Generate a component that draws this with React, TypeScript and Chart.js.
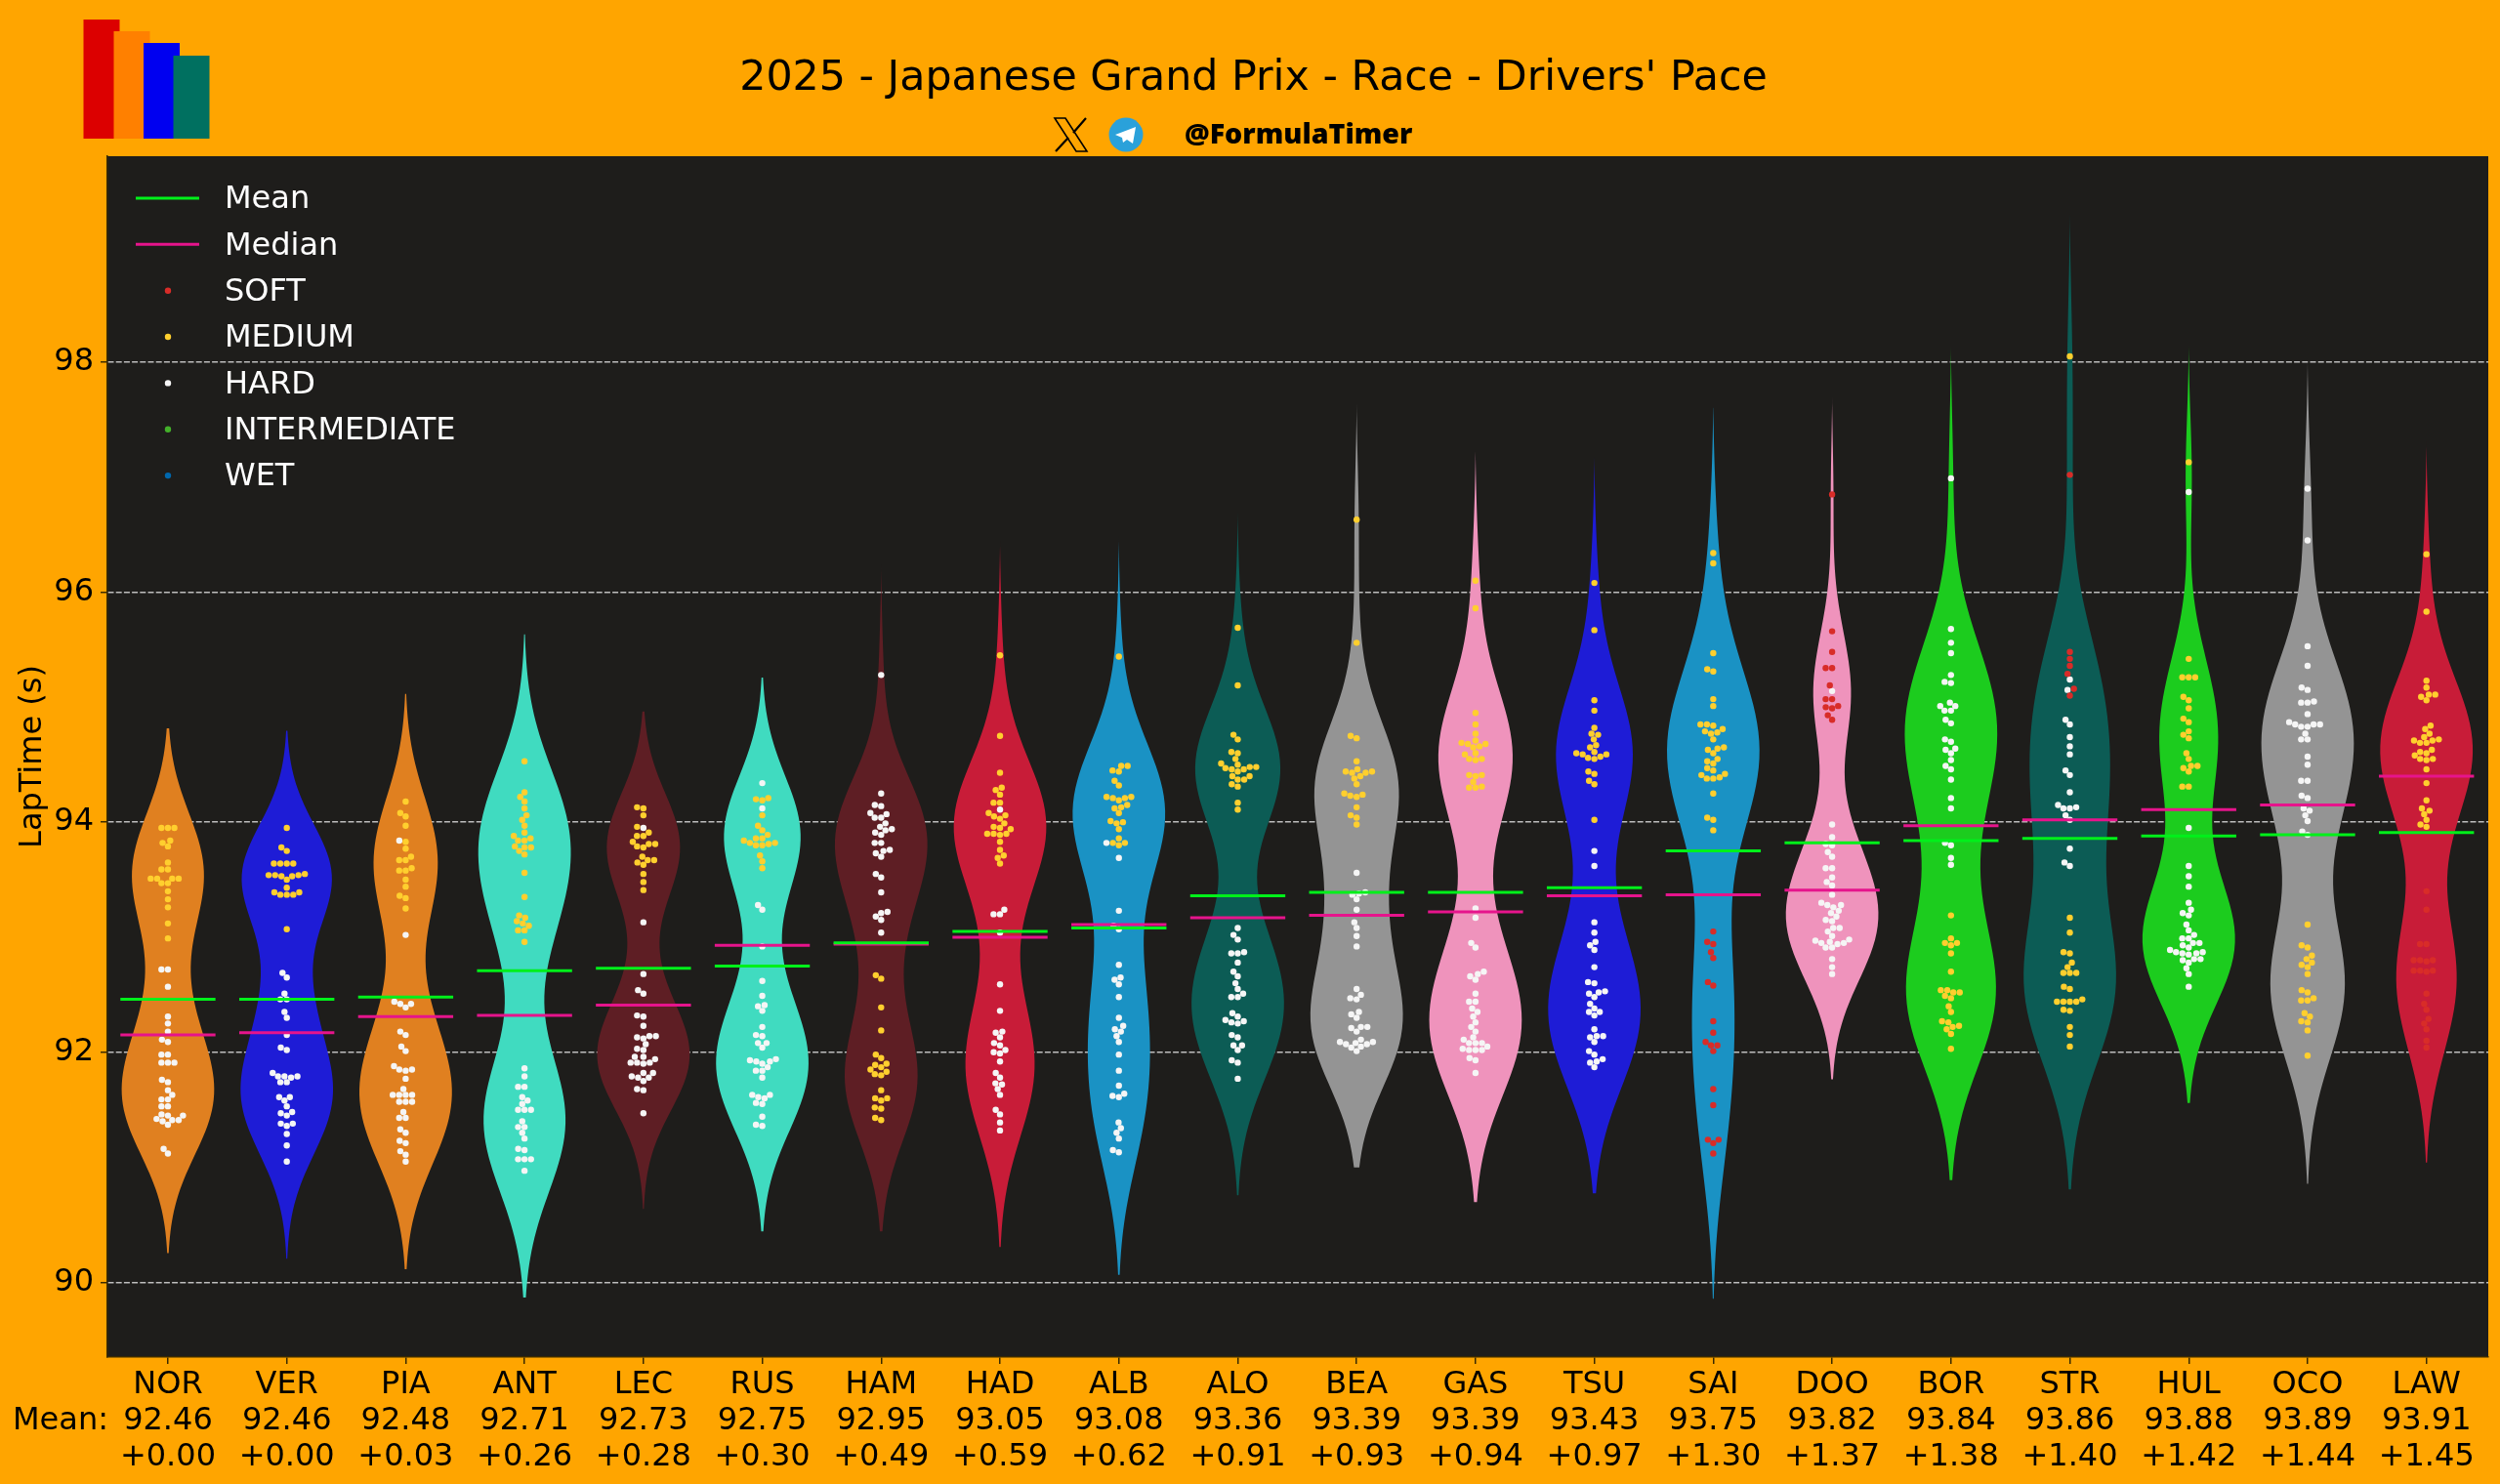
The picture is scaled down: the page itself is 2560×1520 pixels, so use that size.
import React, { useEffect, useRef } from "react";
import { Chart, registerables } from "chart.js";

Chart.register(...registerables);

const drivers = ["NOR","VER","PIA","ANT","LEC","RUS","HAM","HAD","ALB","ALO","BEA","GAS","TSU","SAI","DOO","BOR","STR","HUL","OCO","LAW"];
const means = [92.46,92.46,92.48,92.71,92.73,92.75,92.95,93.05,93.08,93.36,93.39,93.39,93.43,93.75,93.82,93.84,93.86,93.88,93.89,93.91];
const medians = [92.15,92.17,92.31,92.32,92.41,92.93,92.94,93.00,93.11,93.17,93.19,93.22,93.36,93.37,93.41,93.97,94.02,94.11,94.15,94.40];
const gaps = ["+0.00","+0.00","+0.03","+0.26","+0.28","+0.30","+0.49","+0.59","+0.62","+0.91","+0.93","+0.94","+0.97","+1.30","+1.37","+1.38","+1.40","+1.42","+1.44","+1.45"];
const yTicks = [90,92,94,96,98];
const violinColors = ["#E08020","#1E1CD6","#E08020","#40DBC0","#5E1E24","#40DBC0","#5E1E24","#C81C38","#1A92C4","#0C5C55","#949494","#EF93BC","#1E1CD6","#1A92C4","#EF93BC","#1CCC1E","#0C5C55","#1CCC1E","#949494","#C81C38"];
const compoundNames = ["SOFT","MEDIUM","HARD","INTERMEDIATE","WET"];
const compoundColors = ["#D82C28","#FFCF2E","#F5F5F5","#43B02A","#0067AD"];

const NOR_M = [93.95,93.95,93.95,93.84,93.82,93.79,93.65,93.59,93.59,93.51,93.51,93.51,93.51,93.47,93.47,93.40,93.33,93.26,93.12,92.99];
const NOR_H = [92.72,92.72,92.57,92.31,92.25,92.18,92.11,92.09,91.98,91.98,91.91,91.91,91.91,91.76,91.74,91.67,91.63,91.59,91.59,91.53,91.53,91.46,91.45,91.45,91.42,91.41,91.41,91.40,91.37,91.16,91.12];
const VER_M = [93.95,93.78,93.75,93.64,93.64,93.64,93.64,93.55,93.54,93.54,93.54,93.53,93.53,93.50,93.43,93.39,93.39,93.37,93.37,93.37,93.07];
const VER_H = [92.69,92.65,92.51,92.46,92.46,92.35,92.30,92.15,92.04,92.02,91.82,91.79,91.79,91.79,91.78,91.74,91.74,91.61,91.61,91.58,91.53,91.48,91.47,91.45,91.38,91.38,91.36,91.29,91.19,91.05];
const PIA_M = [94.18,94.08,94.05,93.97,93.83,93.77,93.70,93.67,93.67,93.58,93.58,93.60,93.50,93.44,93.36,93.34,93.25];
const PIA_H = [93.84,93.02,92.44,92.42,92.42,92.39,92.18,92.15,92.05,92.01,91.88,91.85,91.85,91.84,91.77,91.68,91.63,91.63,91.63,91.63,91.57,91.57,91.57,91.48,91.43,91.43,91.33,91.30,91.23,91.21,91.14,91.11,91.05];
const ANT_M = [94.53,94.26,94.22,94.18,94.12,94.06,94.02,93.97,93.91,93.88,93.86,93.84,93.84,93.79,93.78,93.75,93.72,93.78,93.56,93.35,93.19,93.17,93.14,93.12,93.10,93.06,93.06,92.96];
const ANT_H = [91.86,91.79,91.70,91.70,91.61,91.58,91.55,91.50,91.50,91.50,91.40,91.35,91.35,91.30,91.25,91.16,91.15,91.07,91.07,91.07,90.97];
const LEC_M = [94.13,94.12,94.06,93.96,93.91,93.88,93.88,93.83,93.81,93.81,93.79,93.78,93.70,93.67,93.67,93.65,93.63,93.55,93.48,93.41];
const LEC_H = [93.95,93.13,92.68,92.54,92.51,92.32,92.31,92.23,92.14,92.14,92.13,92.12,92.07,92.03,92.02,91.96,91.96,91.94,91.91,91.91,91.91,91.90,91.82,91.82,91.79,91.78,91.78,91.75,91.68,91.67,91.47];
const RUS_M = [94.20,94.19,94.21,94.06,93.97,93.93,93.89,93.86,93.86,93.84,93.82,93.82,93.80,93.80,93.81,93.71,93.66,93.60];
const RUS_H = [94.34,94.12,93.28,93.24,92.92,92.62,92.49,92.41,92.40,92.36,92.22,92.15,92.14,92.08,92.08,92.04,91.94,91.93,91.92,91.90,91.92,91.87,91.84,91.84,91.78,91.63,91.63,91.61,91.60,91.56,91.55,91.44,91.37,91.36];
const HAM_M = [92.67,92.64,92.39,92.19,91.98,91.95,91.90,91.89,91.87,91.85,91.83,91.81,91.80,91.67,91.60,91.60,91.58,91.52,91.51,91.43,91.41];
const HAM_H = [95.28,94.25,94.15,94.14,94.08,94.04,94.04,94.07,93.99,93.96,93.94,93.93,93.91,93.89,93.82,93.82,93.76,93.75,93.73,93.70,93.55,93.52,93.39,93.22,93.21,93.18,93.15,93.04];
const HAD_M = [95.45,94.75,94.43,94.30,94.28,94.24,94.17,94.17,94.08,94.06,94.05,94.03,93.99,93.96,93.95,93.94,93.90,93.90,93.90,93.89,93.83,93.76,93.71,93.69,93.64];
const HAD_H = [94.11,93.24,93.20,93.20,93.04,92.59,92.36,92.17,92.18,92.13,92.08,92.06,92.02,92.00,91.99,91.92,91.82,91.78,91.73,91.72,91.68,91.63,91.50,91.46,91.39,91.32];
const ALB_M = [95.44,94.49,94.49,94.45,94.44,94.36,94.32,94.22,94.22,94.21,94.21,94.19,94.15,94.13,94.12,94.08,94.01,94.00,93.99,93.94,93.86,93.82,93.82,93.80];
const ALB_H = [93.82,93.69,93.23,93.10,93.07,92.76,92.65,92.63,92.59,92.48,92.30,92.23,92.20,92.18,92.14,92.09,91.98,91.84,91.71,91.64,91.62,91.61,91.39,91.34,91.30,91.25,91.15,91.13];
const ALO_M = [95.69,95.19,94.76,94.72,94.61,94.60,94.55,94.51,94.50,94.48,94.48,94.47,94.46,94.46,94.44,94.40,94.40,94.37,94.37,94.33,94.31,94.17,94.11];
const ALO_H = [93.08,93.02,92.98,92.87,92.86,92.86,92.78,92.70,92.66,92.60,92.55,92.51,92.48,92.48,92.34,92.31,92.28,92.27,92.26,92.25,92.15,92.13,92.06,92.06,92.02,91.93,91.91,91.77];
const BEA_M = [96.63,95.56,94.75,94.73,94.53,94.46,94.44,94.44,94.43,94.43,94.40,94.38,94.33,94.23,94.24,94.25,94.22,94.13,94.06,94.04,93.98];
const BEA_H = [93.56,93.39,93.38,93.37,93.33,93.24,93.13,93.08,93.01,92.92,92.55,92.50,92.47,92.46,92.35,92.33,92.30,92.22,92.22,92.21,92.18,92.09,92.09,92.08,92.07,92.07,92.11,92.05,92.04,92.01];
const GAS_M = [96.10,95.86,94.95,94.85,94.77,94.69,94.71,94.68,94.68,94.66,94.65,94.60,94.59,94.55,94.54,94.55,94.41,94.41,94.40,94.35,94.31,94.30,94.30];
const GAS_H = [93.25,93.17,92.95,92.91,92.70,92.68,92.66,92.63,92.51,92.44,92.44,92.38,92.35,92.31,92.26,92.22,92.18,92.13,92.11,92.08,92.08,92.08,92.05,92.02,92.02,92.02,92.03,91.95,91.93,91.82];
const TSU_M = [96.08,95.67,95.06,94.97,94.82,94.77,94.76,94.72,94.67,94.65,94.60,94.57,94.56,94.55,94.59,94.59,94.61,94.44,94.42,94.36,94.33,94.02];
const TSU_H = [93.75,93.62,93.13,93.04,92.96,92.93,92.89,92.74,92.61,92.60,92.53,92.52,92.51,92.48,92.42,92.38,92.35,92.35,92.32,92.20,92.14,92.14,92.13,92.09,92.01,91.98,91.94,91.92,91.91,91.87];
const SAI_S = [93.05,92.96,92.94,92.87,92.82,92.61,92.58,92.27,92.17,92.09,92.06,92.06,92.01,91.68,91.54,91.24,91.24,91.21,91.12];
const SAI_M = [96.34,96.25,95.47,95.33,95.31,95.07,95.01,94.85,94.85,94.84,94.81,94.79,94.78,94.77,94.72,94.65,94.64,94.63,94.60,94.55,94.53,94.51,94.47,94.45,94.42,94.41,94.39,94.38,94.38,94.25,94.04,94.02,93.93];
const DOO_S = [96.85,95.66,95.48,95.34,95.34,95.19,95.07,95.07,95.00,94.99,95.01,94.93,94.89];
const DOO_H = [95.14,93.98,93.87,93.81,93.80,93.74,93.70,93.60,93.60,93.52,93.48,93.45,93.37,93.30,93.28,93.28,93.26,93.23,93.21,93.18,93.15,93.14,93.08,93.08,93.05,93.01,92.98,92.95,92.95,92.96,92.97,92.94,92.91,92.91,92.81,92.74,92.68];
const BOR_M = [93.19,92.99,92.95,92.95,92.93,92.86,92.70,92.54,92.52,92.52,92.54,92.49,92.47,92.40,92.35,92.27,92.26,92.23,92.22,92.20,92.16,92.03];
const BOR_H = [96.99,95.68,95.56,95.47,95.28,95.22,95.21,95.04,95.01,95.01,94.97,94.97,94.89,94.86,94.72,94.70,94.64,94.63,94.60,94.54,94.49,94.46,94.37,94.21,94.12,93.82,93.80,93.69,93.63];
const STR_S = [97.02,95.48,95.42,95.36,95.29,95.16,95.10];
const STR_M = [98.05,93.17,93.04,92.87,92.86,92.78,92.74,92.69,92.69,92.69,92.57,92.55,92.46,92.44,92.44,92.44,92.44,92.37,92.36,92.22,92.15,92.05];
const STR_H = [95.24,95.15,94.89,94.85,94.74,94.66,94.59,94.45,94.41,94.26,94.15,94.13,94.12,94.12,94.06,94.02,93.77,93.65,93.62];
const HUL_M = [97.13,95.42,95.26,95.26,95.26,95.09,95.06,94.99,94.90,94.87,94.79,94.76,94.73,94.60,94.55,94.49,94.49,94.47,94.44,94.31,94.31];
const HUL_H = [96.87,93.95,93.62,93.53,93.44,93.30,93.24,93.21,93.19,93.11,93.06,93.02,92.99,92.99,92.95,92.95,92.93,92.91,92.89,92.87,92.87,92.86,92.86,92.85,92.81,92.81,92.80,92.78,92.73,92.68,92.57];
const OCO_M = [93.11,92.93,92.91,92.84,92.81,92.78,92.76,92.74,92.68,92.54,92.52,92.47,92.45,92.45,92.34,92.31,92.27,92.26,92.19,91.97];
const OCO_H = [96.90,96.45,95.53,95.36,95.17,95.15,95.05,95.04,95.04,94.94,94.87,94.85,94.85,94.83,94.83,94.85,94.77,94.72,94.72,94.57,94.50,94.36,94.36,94.23,94.21,94.12,94.10,94.06,94.01,93.92,93.89];
const LAW_S = [93.40,93.24,92.94,92.94,92.80,92.80,92.80,92.79,92.71,92.71,92.71,92.70,92.51,92.42,92.37,92.29,92.25,92.20,92.10,92.04];
const LAW_M = [96.33,95.83,95.23,95.17,95.11,95.11,95.09,95.06,94.84,94.81,94.77,94.74,94.72,94.71,94.71,94.69,94.69,94.63,94.61,94.60,94.58,94.55,94.55,94.54,94.46,94.34,94.19,94.12,94.10,94.07,94.02,93.98,93.96];

// [soft, medium, hard] laps per driver, in the order of `drivers`
const stints: number[][][] = [
  [[],NOR_M,NOR_H],[[],VER_M,VER_H],[[],PIA_M,PIA_H],[[],ANT_M,ANT_H],[[],LEC_M,LEC_H],
  [[],RUS_M,RUS_H],[[],HAM_M,HAM_H],[[],HAD_M,HAD_H],[[],ALB_M,ALB_H],[[],ALO_M,ALO_H],
  [[],BEA_M,BEA_H],[[],GAS_M,GAS_H],[[],TSU_M,TSU_H],[SAI_S,SAI_M,[]],[DOO_S,[],DOO_H],
  [[],BOR_M,BOR_H],[STR_S,STR_M,STR_H],[[],HUL_M,HUL_H],[[],OCO_M,OCO_H],[LAW_S,LAW_M,[]],
];

const FONT = "'DejaVu Sans', sans-serif";
const VIOLIN_HALF = 0.392;
const THIN = 0.0029;
const PX_X = 121.7, PX_Y = 117.75, DOT_D = 6.3;

// Gaussian KDE outline (Scott bandwidth, cut 2) of one driver's laps
function violinOutline(laps: number[], center: number) {
  const n = laps.length;
  const m = laps.reduce((a, b) => a + b, 0) / n;
  const sd = Math.sqrt(laps.reduce((a, b) => a + (b - m) * (b - m), 0) / (n - 1));
  const bw = sd * Math.pow(n, -0.2);
  const lo = Math.min(...laps) - 2 * bw, hi = Math.max(...laps) + 2 * bw;
  const ys: number[] = [], ds: number[] = [];
  for (let k = 0; k < 100; k++) {
    const y = lo + ((hi - lo) * k) / 99;
    let d = 0;
    for (const v of laps) d += Math.exp(-0.5 * ((y - v) / bw) ** 2);
    ys.push(y); ds.push(d);
  }
  const top = Math.max(...ds);
  const half = (k: number) => Math.max(0, (VIOLIN_HALF * ds[k]) / top - THIN);
  const right = ys.map((y, k) => ({ x: center + half(k), y }));
  const left = ys.map((y, k) => ({ x: center - half(k), y })).reverse();
  return [...right, ...left];
}

// Beeswarm placement of all of a driver's laps: returns offset per lap
function swarm(laps: { y: number; c: number }[], center: number) {
  const sorted = [...laps].sort((a, b) => a.y - b.y);
  const placed: { px: number; py: number; c: number; y: number }[] = [];
  for (const p of sorted) {
    const py = p.y * PX_Y;
    const near = placed.filter((q) => py - q.py < DOT_D);
    const cand = [0];
    for (const q of near) {
      const dx = Math.sqrt(Math.max(0, DOT_D * DOT_D - (py - q.py) ** 2)) * 1.05;
      cand.push(q.px - dx, q.px + dx);
    }
    cand.sort((a, b) => Math.abs(a) - Math.abs(b));
    let px = 0;
    for (const x of cand) {
      if (near.every((q) => (x - q.px) ** 2 + (py - q.py) ** 2 >= DOT_D * DOT_D * 0.999)) { px = x; break; }
    }
    placed.push({ px, py, c: p.c, y: p.y });
  }
  return placed.map((q) => ({ x: center + q.px / PX_X, y: q.y, c: q.c }));
}

function segments(values: number[]) {
  const out: { x: number; y: number }[] = [];
  values.forEach((v, i) => {
    out.push({ x: i - 0.4, y: v }, { x: i + 0.4, y: v }, { x: NaN, y: NaN });
  });
  return out;
}

const decor = {
  id: "decor",
  beforeDraw(chart: any) {
    const { ctx, chartArea: a, width, height } = chart;
    ctx.save();
    ctx.fillStyle = "#FFA500";
    ctx.fillRect(0, 0, width, height);
    ctx.fillStyle = "#1E1D1B";
    ctx.fillRect(a.left, a.top, a.right - a.left, a.bottom - a.top);
    // logo
    ([["#DC0000",85.5,20],["#FF8000",116.5,32],["#0000F0",147,44],["#007060",177.5,57]] as any[]).forEach(([c, x, y]) => {
      ctx.fillStyle = c;
      ctx.fillRect(x, y, 37, 142 - y);
    });
    // X mark
    ctx.strokeStyle = "#000";
    ctx.lineWidth = 1.6;
    ctx.beginPath();
    ctx.moveTo(1080, 121); ctx.lineTo(1091, 121); ctx.lineTo(1113, 155); ctx.lineTo(1102, 155); ctx.closePath();
    ctx.stroke();
    ctx.lineWidth = 2.2;
    ctx.beginPath();
    ctx.moveTo(1112, 121); ctx.lineTo(1099, 136);
    ctx.moveTo(1094, 141); ctx.lineTo(1081, 155);
    ctx.stroke();
    // telegram mark
    ctx.fillStyle = "#2AA1DA";
    ctx.beginPath(); ctx.arc(1153, 138, 17.5, 0, Math.PI * 2); ctx.fill();
    ctx.fillStyle = "#FFF";
    ctx.beginPath();
    ctx.moveTo(1142, 138); ctx.lineTo(1163, 130); ctx.lineTo(1160, 147); ctx.lineTo(1154, 143); ctx.lineTo(1150, 146); ctx.lineTo(1149, 141);
    ctx.closePath(); ctx.fill();
    ctx.fillStyle = "#000";
    ctx.font = "800 28.6px 'Open Sans', sans-serif";
    ctx.textAlign = "left";
    ctx.textBaseline = "middle";
    ctx.fillText("@FormulaTimer", 1213, 138.5);
    ctx.restore();
  },
  beforeDatasetDraw(chart: any, args: any) {
    const ds = chart.data.datasets[args.index];
    if (!ds.violin) return;
    const { ctx } = chart;
    const pts = args.meta.data;
    ctx.save();
    ctx.fillStyle = ds.backgroundColor;
    ctx.beginPath();
    pts.forEach((p: any, i: number) => (i ? ctx.lineTo(p.x, p.y) : ctx.moveTo(p.x, p.y)));
    ctx.closePath();
    ctx.fill();
    ctx.restore();
  },
  afterDraw(chart: any) {
    const { ctx } = chart;
    ctx.save();
    ctx.font = `32px ${FONT}`;
    ctx.fillStyle = "#000";
    ctx.textAlign = "left";
    ctx.textBaseline = "middle";
    ctx.fillText("Mean:", 13, 1455.5);
    // legend
    const rowY = (i: number) => 203 + i * 47.35;
    ctx.lineWidth = 3;
    ctx.strokeStyle = "#00F01A";
    ctx.beginPath(); ctx.moveTo(139, rowY(0)); ctx.lineTo(204, rowY(0)); ctx.stroke();
    ctx.strokeStyle = "#E6148C";
    ctx.beginPath(); ctx.moveTo(139, rowY(1)); ctx.lineTo(204, rowY(1)); ctx.stroke();
    compoundNames.forEach((_, i) => {
      ctx.fillStyle = compoundColors[i];
      ctx.beginPath(); ctx.arc(172, rowY(i + 2), 3.2, 0, Math.PI * 2); ctx.fill();
    });
    ctx.fillStyle = "#FFF";
    ["Mean", "Median", ...compoundNames].forEach((t, i) => ctx.fillText(t, 230, rowY(i) + 2));
    ctx.restore();
  },
};

export default function App() {
  const ref = useRef<HTMLCanvasElement>(null);
  useEffect(() => {
    document.body.style.margin = "0";
    const dots = stints.flatMap((s, i) =>
      swarm(s.flatMap((laps, c) => laps.map((y) => ({ y, c }))), i)
    );
    const chart = new Chart(ref.current!, {
      type: "scatter",
      data: {
        datasets: [
          ...stints.map((s, i) => ({
            label: drivers[i],
            violin: true,
            data: violinOutline(s.flat(), i),
            backgroundColor: violinColors[i],
            borderWidth: 0,
            pointRadius: 0,
            order: 5,
          })),
          ...compoundNames.map((name, c) => ({
            label: name,
            data: dots.filter((d) => d.c === c).map((d) => ({ x: d.x, y: d.y })),
            backgroundColor: compoundColors[c],
            borderWidth: 0,
            pointRadius: 3.2,
            order: 3,
          })),
          {
            label: "Mean", data: segments(means), showLine: true, spanGaps: false,
            borderColor: "#00F01A", borderWidth: 3, pointRadius: 0, order: 1,
          },
          {
            label: "Median", data: segments(medians), showLine: true, spanGaps: false,
            borderColor: "#E6148C", borderWidth: 3, pointRadius: 0, order: 1,
          },
        ] as any,
      },
      options: {
        responsive: false,
        devicePixelRatio: 1,
        animation: false,
        events: [],
        layout: { padding: { left: 19, right: 12, top: 0, bottom: 0 } },
        plugins: {
          legend: { display: false },
          tooltip: { enabled: false },
          title: {
            display: true,
            text: "2025 - Japanese Grand Prix - Race - Drivers' Pace",
            color: "#000",
            font: { family: FONT, size: 42.75, weight: "normal", lineHeight: 1.2 },
            padding: { top: 55, bottom: 53.7 },
          },
        },
        scales: {
          x: {
            type: "linear",
            min: -0.509,
            max: 19.52,
            afterFit: (s: any) => { s.height = 130; },
            afterBuildTicks: (s: any) => { s.ticks = drivers.map((_, i) => ({ value: i })); },
            grid: { drawOnChartArea: false, tickColor: "#3A2A00", tickLength: 7, lineWidth: 1.5 },
            border: { color: "#3A2A00", width: 1.5 },
            ticks: {
              color: "#000",
              autoSkip: false,
              maxRotation: 0,
              padding: 3,
              font: { family: FONT, size: 32, lineHeight: 1.16 },
              callback: (v: any) => [drivers[v], means[v].toFixed(2), gaps[v]],
            },
          },
          y: {
            type: "linear",
            min: 89.35,
            max: 99.79,
            afterFit: (s: any) => { s.width = 91; },
            afterBuildTicks: (s: any) => { s.ticks = yTicks.map((value) => ({ value })); },
            grid: { color: "#BDBDBD", lineWidth: 1.5, tickColor: "#3A2A00", tickLength: 7 },
            border: { dash: [6, 2.2], color: "#3A2A00", width: 1.5 },
            title: {
              display: true,
              text: "LapTime (s)",
              color: "#000",
              padding: 0,
              font: { family: FONT, size: 32, lineHeight: 0.9 },
            },
            ticks: {
              color: "#000",
              padding: 7,
              font: { family: FONT, size: 32 },
              callback: (v: any) => String(v),
            },
          },
        },
      },
      plugins: [decor],
    } as any);
    return () => chart.destroy();
  }, []);
  return (
    <div style={{ position: "fixed", left: 0, top: 0, width: 2560, height: 1520 }}>
      <canvas ref={ref} width={2560} height={1520} style={{ display: "block" }} />
    </div>
  );
}
